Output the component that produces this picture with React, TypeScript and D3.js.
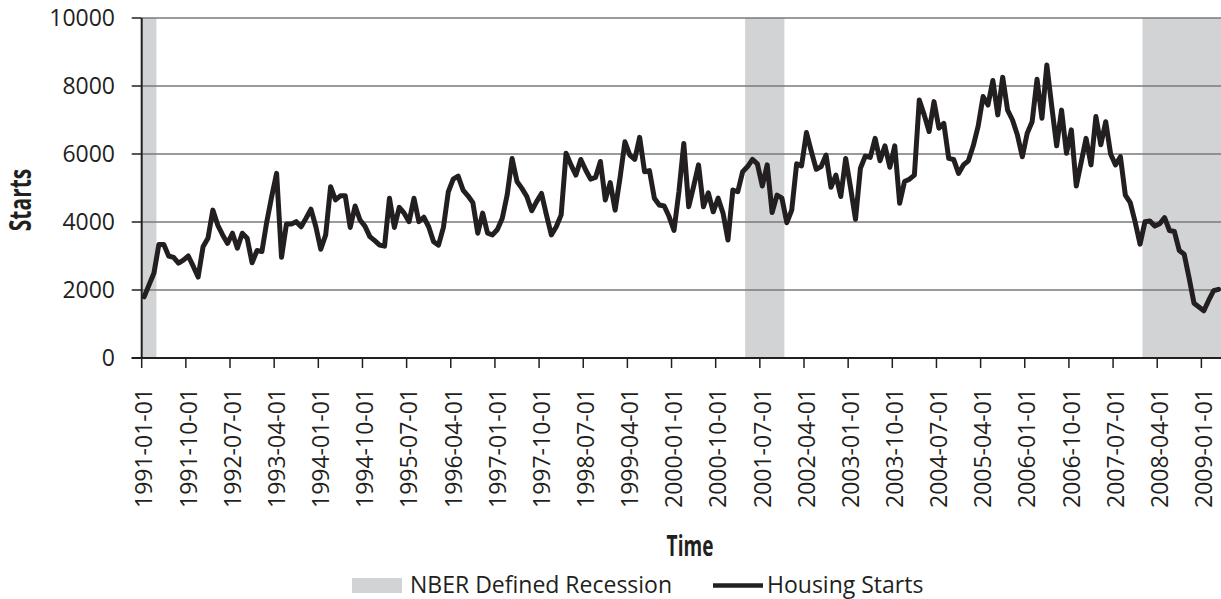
import React from "react";
import * as d3 from "d3";

// Monthly housing starts, first month = 1991-01
const startYear = 1991;
const startMonth = 1;
const housingStarts: number[] = [
  1800, 2150, 2500, 3340, 3340, 3000, 2960, 2790, 2880, 3000, 2700, 2380,
  3270, 3520, 4350, 3910, 3620, 3370, 3670, 3230, 3670, 3520, 2800, 3160,
  3130, 4010, 4750, 5430, 2960, 3940, 3940, 4010, 3860, 4110, 4380, 3860,
  3200, 3620, 5040, 4650, 4770, 4770, 3840, 4470, 4060, 3880, 3570, 3450,
  3320, 3290, 4700, 3840, 4430, 4260, 4010, 4700, 4010, 4140, 3860, 3420,
  3320, 3840, 4890, 5260, 5350, 4940, 4770, 4570, 3670, 4260, 3670, 3620,
  3780, 4110, 4800, 5870, 5190, 4990, 4750, 4330, 4600, 4840, 4210, 3620,
  3860, 4210, 6020, 5680, 5380, 5840, 5530, 5260, 5310, 5780, 4650, 5160,
  4350, 5300, 6360, 5970, 5840, 6490, 5480, 5510, 4700, 4500, 4470, 4160,
  3750, 4890, 6310, 4450, 5050, 5680, 4450, 4860, 4300, 4700, 4260, 3470,
  4940, 4890, 5480, 5630, 5840, 5710, 5060, 5680, 4280, 4790, 4700, 3980,
  4350, 5710, 5650, 6630, 6070, 5550, 5630, 5970, 5020, 5380, 4750, 5870,
  5000, 4080, 5580, 5940, 5900, 6460, 5800, 6240, 5610, 6240, 4550, 5190,
  5260, 5380, 7590, 7150, 6660, 7540, 6760, 6900, 5870, 5840, 5430, 5680,
  5800, 6240, 6820, 7690, 7440, 8160, 7150, 8260, 7290, 7000, 6560, 5920,
  6610, 6950, 8200, 7050, 8620, 7400, 6240, 7290, 6020, 6710, 5060, 5760,
  6460, 5680, 7100, 6270, 6950, 6000, 5680, 5920, 4790, 4570, 4000, 3350,
  4010, 4030, 3880, 3950, 4130, 3750, 3720, 3160, 3050, 2350, 1610, 1500,
  1390, 1700, 1980, 2020,
];

const yTicks = [0, 2000, 4000, 6000, 8000, 10000];
const xTickLabels = [
  "1991-01-01", "1991-10-01", "1992-07-01", "1993-04-01", "1994-01-01",
  "1994-10-01", "1995-07-01", "1996-04-01", "1997-01-01", "1997-10-01",
  "1998-07-01", "1999-04-01", "2000-01-01", "2000-10-01", "2001-07-01",
  "2002-04-01", "2003-01-01", "2003-10-01", "2004-07-01", "2005-04-01",
  "2006-01-01", "2006-10-01", "2007-07-01", "2008-04-01", "2009-01-01",
];
// NBER recession months (first and last shaded month)
const recessionStarts = ["1990-08-01", "2001-04-01", "2008-01-01"];
const recessionEnds = ["1991-03-01", "2001-11-01", "2009-06-01"];

const monthIndex = (s: string) => {
  const [yy, mm] = s.split("-").map(Number);
  return (yy - startYear) * 12 + (mm - startMonth);
};

const W = 1221;
const H = 599;
const left = 141.7;
const right = 1221;
const top = 18;
const bottom = 358;
const ink = "#231f20";
const font = "'Open Sans', 'Noto Sans', sans-serif";

export default function App() {
  const n = housingStarts.length;
  const x = d3.scaleLinear().domain([0, n]).range([left, right]);
  const y = d3.scaleLinear().domain([0, 10000]).range([bottom, top]);
  const line = d3
    .line<number>()
    .x((_, i) => x(i + 0.5))
    .y((d) => y(d));

  return (
    <svg
      width={W}
      height={H}
      style={{ position: "absolute", left: 0, top: 0, background: "#fff" }}
      fontFamily={font}
    >
      <defs>
        <clipPath id="plotclip">
          <rect x={left} y={top} width={right - left} height={bottom - top} />
        </clipPath>
      </defs>
      <g clipPath="url(#plotclip)">
        {recessionStarts.map((s, k) => {
          const x0 = x(monthIndex(s));
          const x1 = x(monthIndex(recessionEnds[k]) + 1);
          return (
            <rect key={k} x={x0} y={top} width={x1 - x0} height={bottom - top} fill="#d1d3d4" />
          );
        })}
      </g>
      {yTicks.filter((t) => t > 0).map((t) => (
        <line key={t} x1={left} x2={right} y1={y(t)} y2={y(t)} stroke="#7a7a7a" strokeWidth={1.4} />
      ))}
      <g clipPath="url(#plotclip)">
        <path
          d={line(housingStarts) || ""}
          fill="none"
          stroke={ink}
          strokeWidth={5}
          strokeLinejoin="round"
          strokeLinecap="round"
        />
      </g>
      {/* axes */}
      <line x1={left} x2={left} y1={top} y2={bottom} stroke={ink} strokeWidth={2} />
      <line x1={left - 10} x2={right} y1={bottom} y2={bottom} stroke={ink} strokeWidth={2} />
      {yTicks.map((t) => (
        <g key={t}>
          <line x1={left - 10} x2={left} y1={y(t)} y2={y(t)} stroke={ink} strokeWidth={1.5} />
          <text x={115} y={y(t)} dy="0.36em" textAnchor="end" fontSize={23} fill={ink}>
            {t}
          </text>
        </g>
      ))}
      {xTickLabels.map((lab) => {
        const i = monthIndex(lab);
        return (
          <g key={lab}>
            <line x1={x(i)} x2={x(i)} y1={bottom} y2={bottom + 10} stroke={ink} strokeWidth={1.5} />
            <text
              transform={`translate(${x(i + 0.5)},388) rotate(-90)`}
              textAnchor="end"
              dy="0.36em"
              fontSize={23}
              fill={ink}
            >
              {lab}
            </text>
          </g>
        );
      })}
      {/* axis titles */}
      <text
        transform="translate(31,200) rotate(-90) scale(0.7,1)"
        textAnchor="middle"
        fontSize={30}
        fontWeight="bold"
        fill={ink}
      >
        Starts
      </text>
      <text
        transform="translate(690,556) scale(0.68,1)"
        textAnchor="middle"
        fontSize={28}
        fontWeight="bold"
        fill={ink}
      >
        Time
      </text>
      {/* legend */}
      <rect x={352} y={578} width={50} height={15} fill="#d1d3d4" />
      <text x={410} y={593} fontSize={23} fill={ink}>
        NBER Defined Recession
      </text>
      <line x1={713} x2={763} y1={585.5} y2={585.5} stroke={ink} strokeWidth={4.6} />
      <text x={767} y={593} fontSize={23} fill={ink}>
        Housing Starts
      </text>
    </svg>
  );
}
